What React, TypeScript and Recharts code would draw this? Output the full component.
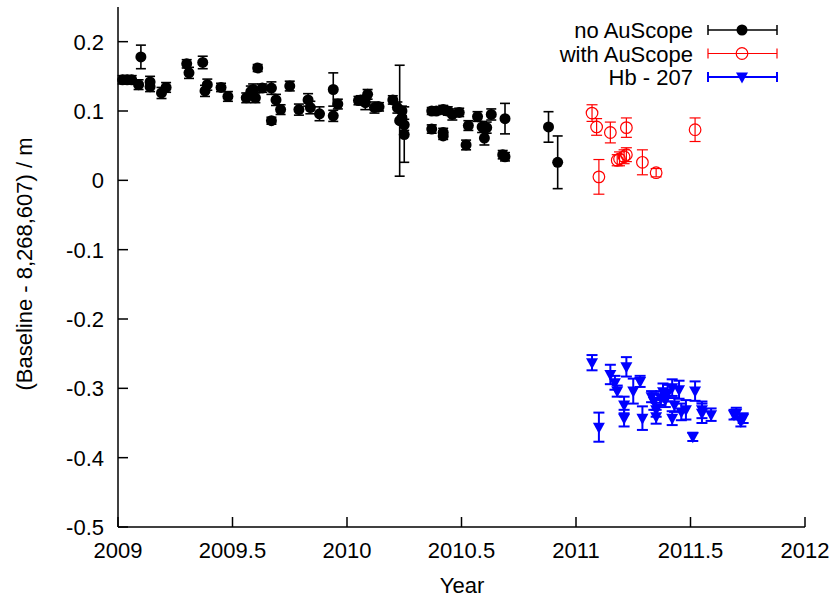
import { ScatterChart, Scatter, XAxis, YAxis, ErrorBar, Legend } from 'recharts';

// [year, offset (m), error (m)]
const noAuScope: [number, number, number][] = [
  [2009.02, 0.145, 0.006], [2009.04, 0.145, 0.006], [2009.06, 0.145, 0.006],
  [2009.09, 0.138, 0.007], [2009.10, 0.178, 0.017], [2009.14, 0.142, 0.008],
  [2009.14, 0.135, 0.007], [2009.19, 0.126, 0.008], [2009.21, 0.134, 0.007],
  [2009.30, 0.168, 0.006], [2009.31, 0.155, 0.008], [2009.37, 0.170, 0.009],
  [2009.39, 0.138, 0.008], [2009.38, 0.129, 0.008], [2009.45, 0.134, 0.006],
  [2009.48, 0.121, 0.007], [2009.56, 0.119, 0.007], [2009.58, 0.128, 0.008],
  [2009.59, 0.131, 0.008], [2009.60, 0.119, 0.007], [2009.61, 0.162, 0.005],
  [2009.63, 0.133, 0.006], [2009.67, 0.133, 0.009], [2009.67, 0.086, 0.005],
  [2009.69, 0.116, 0.008], [2009.71, 0.102, 0.007], [2009.75, 0.136, 0.007],
  [2009.79, 0.102, 0.008], [2009.83, 0.116, 0.009], [2009.84, 0.105, 0.009],
  [2009.88, 0.096, 0.010], [2009.94, 0.131, 0.024], [2009.94, 0.093, 0.008],
  [2009.96, 0.110, 0.007], [2010.05, 0.115, 0.006], [2010.06, 0.116, 0.006],
  [2010.08, 0.112, 0.010], [2010.09, 0.124, 0.007], [2010.12, 0.105, 0.008],
  [2010.14, 0.106, 0.006], [2010.20, 0.116, 0.006], [2010.22, 0.105, 0.008],
  [2010.23, 0.086, 0.080], [2010.24, 0.090, 0.008], [2010.25, 0.080, 0.008],
  [2010.24, 0.100, 0.007], [2010.25, 0.066, 0.040], [2010.37, 0.100, 0.005],
  [2010.39, 0.100, 0.005], [2010.42, 0.102, 0.006], [2010.44, 0.100, 0.006],
  [2010.37, 0.074, 0.006], [2010.42, 0.069, 0.006], [2010.42, 0.064, 0.005],
  [2010.46, 0.095, 0.008], [2010.49, 0.098, 0.006], [2010.52, 0.051, 0.007],
  [2010.53, 0.079, 0.007], [2010.57, 0.092, 0.007], [2010.59, 0.077, 0.008],
  [2010.60, 0.061, 0.010], [2010.61, 0.076, 0.008], [2010.63, 0.095, 0.008],
  [2010.69, 0.089, 0.022], [2010.68, 0.037, 0.006], [2010.69, 0.034, 0.006],
  [2010.88, 0.077, 0.022], [2010.92, 0.026, 0.038],
];

const withAuScope: [number, number, number][] = [
  [2011.07, 0.097, 0.012], [2011.09, 0.077, 0.012], [2011.10, 0.005, 0.025],
  [2011.15, 0.069, 0.015], [2011.18, 0.029, 0.008], [2011.19, 0.031, 0.010],
  [2011.21, 0.034, 0.010], [2011.22, 0.037, 0.010], [2011.22, 0.076, 0.014],
  [2011.29, 0.026, 0.018], [2011.35, 0.011, 0.006], [2011.52, 0.073, 0.017],
];

const hb207: [number, number, number][] = [
  [2011.07, -0.263, 0.011], [2011.10, -0.356, 0.021], [2011.15, -0.280, 0.014],
  [2011.17, -0.292, 0.010], [2011.18, -0.304, 0.008], [2011.21, -0.324, 0.012],
  [2011.21, -0.343, 0.012], [2011.22, -0.269, 0.014], [2011.25, -0.304, 0.018],
  [2011.28, -0.290, 0.008], [2011.29, -0.343, 0.017], [2011.33, -0.312, 0.008],
  [2011.34, -0.319, 0.012], [2011.35, -0.331, 0.010], [2011.35, -0.341, 0.010],
  [2011.37, -0.314, 0.010], [2011.38, -0.305, 0.012], [2011.39, -0.317, 0.010],
  [2011.40, -0.307, 0.012], [2011.42, -0.299, 0.012], [2011.42, -0.343, 0.010],
  [2011.43, -0.324, 0.010], [2011.45, -0.302, 0.013], [2011.46, -0.334, 0.012],
  [2011.48, -0.331, 0.014], [2011.51, -0.370, 0.006], [2011.52, -0.304, 0.014],
  [2011.55, -0.331, 0.012], [2011.55, -0.336, 0.014], [2011.59, -0.338, 0.009],
  [2011.69, -0.338, 0.007], [2011.70, -0.336, 0.008], [2011.72, -0.348, 0.007],
  [2011.73, -0.343, 0.007],
];

const xTicks = [2009, 2009.5, 2010, 2010.5, 2011, 2011.5, 2012];
const yTicks = [-0.5, -0.4, -0.3, -0.2, -0.1, 0, 0.1, 0.2];

const legendItems = [
  { name: 'no AuScope', color: '#000000', marker: 'dot' },
  { name: 'with AuScope', color: '#ff0000', marker: 'ring' },
  { name: 'Hb - 207', color: '#0000ff', marker: 'tri' },
];

const FONT = '"Liberation Sans", Arial, Helvetica, sans-serif';

const toRows = (arr: [number, number, number][]) => arr.map(([x, y, e]) => ({ x, y, e }));

const Marker = ({ type, cx, cy }: { type: string; cx: number; cy: number }) => {
  if (type === 'dot') return <circle cx={cx} cy={cy} r={5.5} fill="#000" />;
  if (type === 'ring') return <circle cx={cx} cy={cy} r={5.8} fill="none" stroke="#ff0000" strokeWidth={1.2} />;
  return (
    <polygon
      points={`${cx - 6},${cy - 4.5} ${cx + 6},${cy - 4.5} ${cx},${cy + 6.5}`}
      fill="#0000ff"
    />
  );
};

const LeftTick = ({ x, y, payload }: any) => (
  <g>
    <line x1={x} x2={x + 10} y1={y} y2={y} stroke="#000" strokeWidth={1.5} />
    <text x={x - 14} y={y + 8} textAnchor="end" fontSize={22} fontFamily={FONT} fill="#000">
      {String(payload.value)}
    </text>
  </g>
);

const RightTick = ({ x, y }: any) => (
  <line x1={x - 10} x2={x} y1={y} y2={y} stroke="#000" strokeWidth={1.5} />
);

const BottomTick = ({ x, y, payload }: any) => (
  <g>
    <line x1={x} x2={x} y1={y} y2={y - 10} stroke="#000" strokeWidth={1.5} />
    <text x={x} y={y + 31} textAnchor="middle" fontSize={22} fontFamily={FONT} fill="#000">
      {String(payload.value)}
    </text>
  </g>
);

const TopTick = ({ x, y }: any) => (
  <line x1={x} x2={x} y1={y} y2={y + 10} stroke="#000" strokeWidth={1.5} />
);

const YTitle = () => (
  <text
    x={32}
    y={264}
    transform="rotate(-90 32 264)"
    textAnchor="middle"
    fontSize={22}
    fontFamily={FONT}
    fill="#000"
  >
    (Baseline - 8,268,607) / m
  </text>
);

const XTitle = () => (
  <text x={462} y={593} textAnchor="middle" fontSize={22} fontFamily={FONT} fill="#000">
    Year
  </text>
);

const LegendBox = () => (
  <svg width={260} height={90}>
    {legendItems.map((item, i) => {
      const y = 20 + i * 23.5;
      const sw = item.marker === 'tri' ? 2 : item.marker === 'dot' ? 1.5 : 1.2;
      return (
        <g key={item.name}>
          <text x={153} y={y + 8} textAnchor="end" fontSize={22} fontFamily={FONT} fill="#000">
            {item.name}
          </text>
          <line x1={168} x2={237} y1={y} y2={y} stroke={item.color} strokeWidth={sw} />
          <line x1={168} x2={168} y1={y - 5} y2={y + 5} stroke={item.color} strokeWidth={sw} />
          <line x1={237} x2={237} y1={y - 5} y2={y + 5} stroke={item.color} strokeWidth={sw} />
          <Marker type={item.marker} cx={202} cy={y} />
        </g>
      );
    })}
  </svg>
);

export default function App() {
  return (
    <div style={{ position: 'absolute', left: 0, top: 0, background: '#fff' }}>
      <ScatterChart width={835} height={600} margin={{ top: 7, right: 30, bottom: 0, left: 0 }}>
        <XAxis
          type="number"
          dataKey="x"
          domain={[2009, 2012]}
          ticks={xTicks}
          height={73}
          tickSize={0}
          tickMargin={0}
          tickLine={false}
          axisLine={{ stroke: '#000', strokeWidth: 1.5 }}
          tick={<BottomTick />}
          label={<XTitle />}
        />
        <XAxis
          xAxisId="top"
          orientation="top"
          type="number"
          domain={[2009, 2012]}
          ticks={xTicks}
          height={0}
          tickSize={0}
          tickMargin={0}
          tickLine={false}
          axisLine={{ stroke: '#000', strokeWidth: 1.5 }}
          tick={<TopTick />}
        />
        <YAxis
          type="number"
          dataKey="y"
          domain={[-0.5, 0.25]}
          ticks={yTicks}
          width={118}
          tickSize={0}
          tickMargin={0}
          tickLine={false}
          axisLine={{ stroke: '#000', strokeWidth: 1.5 }}
          tick={<LeftTick />}
          label={<YTitle />}
        />
        <YAxis
          yAxisId="right"
          orientation="right"
          type="number"
          domain={[-0.5, 0.25]}
          ticks={yTicks}
          width={0}
          tickSize={0}
          tickMargin={0}
          tickLine={false}
          axisLine={{ stroke: '#000', strokeWidth: 1.5 }}
          tick={<RightTick />}
        />
        <Legend
          layout="vertical"
          align="center"
          verticalAlign="middle"
          content={<LegendBox />}
          wrapperStyle={{ position: 'absolute', left: 540, top: 10, width: 260, height: 90 }}
        />
        <Scatter
          name="no AuScope"
          data={toRows(noAuScope)}
          isAnimationActive={false}
          shape={(p: any) => <Marker type="dot" cx={p.cx} cy={p.cy} />}
        >
          <ErrorBar dataKey="e" direction="y" width={5} stroke="#000" strokeWidth={1.6} isAnimationActive={false} />
        </Scatter>
        <Scatter
          name="with AuScope"
          data={toRows(withAuScope)}
          isAnimationActive={false}
          shape={(p: any) => <Marker type="ring" cx={p.cx} cy={p.cy} />}
        >
          <ErrorBar dataKey="e" direction="y" width={5.5} stroke="#ff0000" strokeWidth={1.2} isAnimationActive={false} />
        </Scatter>
        <Scatter
          name="Hb - 207"
          data={toRows(hb207)}
          isAnimationActive={false}
          shape={(p: any) => <Marker type="tri" cx={p.cx} cy={p.cy} />}
        >
          <ErrorBar dataKey="e" direction="y" width={5.5} stroke="#0000ff" strokeWidth={2} isAnimationActive={false} />
        </Scatter>
      </ScatterChart>
    </div>
  );
}
